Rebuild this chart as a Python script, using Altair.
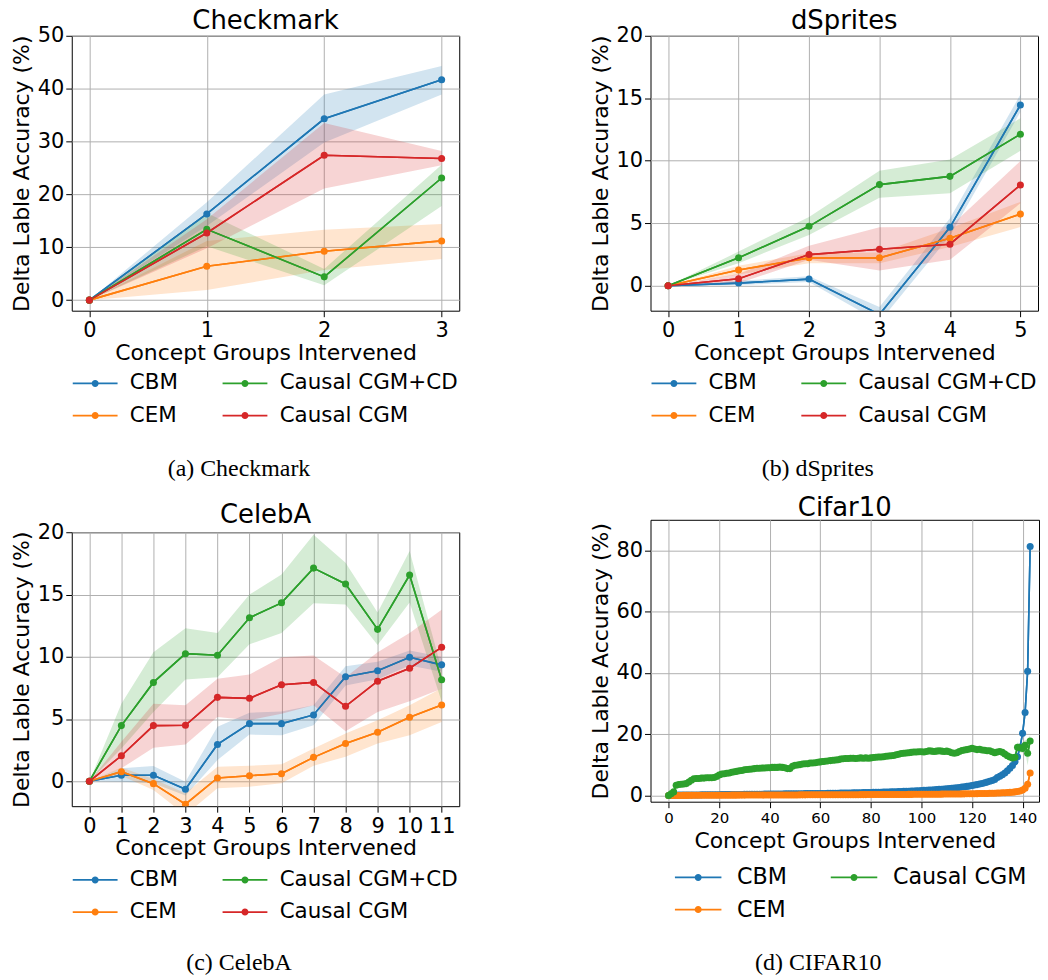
import math
import altair as alt
import pandas as pd

FONT = "DejaVu Sans"
SERIF = "Liberation Serif"
BLUE, ORANGE, GREEN, RED = "#1f77b4", "#ff7f0e", "#2ca02c", "#d62728"

# ---------------- (a) Checkmark ----------------
CK_X = [0, 1, 2, 3]
CK_CBM = [0.0, 16.3, 34.3, 41.7]
CK_CBM_LO = [0.0, 14.0, 29.8, 38.9]
CK_CBM_HI = [0.0, 18.5, 38.9, 44.3]
CK_CEM = [0.0, 6.4, 9.25, 11.2]
CK_CEM_LO = [0.0, 1.9, 5.7, 7.8]
CK_CEM_HI = [0.0, 11.2, 13.3, 14.4]
CK_CD = [0.0, 13.4, 4.4, 23.1]
CK_CD_LO = [0.0, 10.2, 2.8, 17.8]
CK_CD_HI = [0.0, 16.5, 5.9, 25.6]
CK_CGM = [0.0, 12.7, 27.4, 26.8]
CK_CGM_LO = [0.0, 9.8, 21.1, 25.5]
CK_CGM_HI = [0.0, 15.3, 33.5, 28.2]

# ---------------- (b) dSprites ----------------
DS_X = [0, 1, 2, 3, 4, 5]
DS_CBM = [0.0, 0.21, 0.53, -2.3, 4.67, 14.46]
DS_CBM_LO = [0.0, 0.05, 0.3, -2.9, 4.0, 13.9]
DS_CBM_HI = [0.0, 0.4, 0.75, -1.7, 5.4, 15.3]
DS_CEM = [0.0, 1.25, 2.23, 2.23, 3.8, 5.73]
DS_CEM_LO = [0.0, 0.9, 1.8, 1.8, 3.1, 4.7]
DS_CEM_HI = [0.0, 1.6, 2.6, 2.65, 4.6, 6.7]
DS_CD = [0.0, 2.23, 4.75, 8.09, 8.75, 12.12]
DS_CD_LO = [0.0, 1.8, 4.05, 7.03, 7.4, 10.8]
DS_CD_HI = [0.0, 2.73, 5.5, 9.2, 10.1, 13.4]
DS_CGM = [0.0, 0.56, 2.49, 2.92, 3.32, 8.06]
DS_CGM_LO = [0.0, 0.2, 2.07, 1.22, 2.07, 6.6]
DS_CGM_HI = [0.0, 0.93, 3.2, 4.67, 4.72, 9.97]

# ---------------- (c) CelebA ----------------
CA_X = [0, 1, 2, 3, 4, 5, 6, 7, 8, 9, 10, 11]
CA_CBM = [0.0, 0.48, 0.48, -0.64, 2.96, 4.63, 4.63, 5.33, 8.39, 8.87, 9.96, 9.35]
CA_CBM_LO = [0.0, -0.03, -0.16, -1.15, 1.7, 3.75, 3.7, 4.5, 7.7, 8.2, 9.3, 8.8]
CA_CBM_HI = [0.0, 1.04, 1.22, -0.03, 4.37, 5.5, 5.6, 6.1, 9.24, 9.6, 10.5, 10.0]
CA_CEM = [0.0, 0.77, -0.19, -1.84, 0.27, 0.45, 0.61, 1.92, 3.04, 3.94, 5.14, 6.13]
CA_CEM_LO = [0.0, 0.45, -0.7, -2.7, -0.56, -0.43, -0.16, 1.25, 1.97, 3.04, 3.7, 4.77]
CA_CEM_HI = [0.0, 1.1, 0.19, -0.96, 1.17, 1.25, 1.36, 2.64, 3.84, 4.9, 6.1, 7.48]
CA_CD = [0.0, 4.47, 7.94, 10.25, 10.12, 13.13, 14.33, 17.12, 15.85, 12.2, 16.56, 8.15]
CA_CD_LO = [0.0, 2.64, 5.57, 8.18, 8.36, 11.0, 11.9, 14.3, 14.2, 10.95, 14.35, 6.4]
CA_CD_HI = [0.0, 6.23, 10.36, 12.28, 11.9, 15.0, 16.6, 19.8, 17.55, 13.55, 18.5, 9.0]
CA_CGM = [0.0, 2.05, 4.47, 4.5, 6.74, 6.66, 7.75, 7.94, 6.02, 8.04, 9.08, 10.76]
CA_CGM_LO = [0.0, 1.04, 2.69, 2.96, 5.17, 4.9, 5.43, 6.1, 4.02, 5.57, 6.42, 7.43]
CA_CGM_HI = [0.0, 3.17, 6.23, 6.1, 8.23, 8.58, 9.96, 10.1, 8.36, 10.36, 11.9, 13.77]

# ---------------- (d) CIFAR10 (x = 0 .. 143) ----------------
CF_CBM = [
    0.00, 0.05, 0.10, 0.12, 0.14, 0.15, 0.16, 0.17, 0.18, 0.19,
    0.20, 0.21, 0.22, 0.23, 0.24, 0.25, 0.26, 0.27, 0.28, 0.29,
    0.30, 0.31, 0.32, 0.33, 0.34, 0.35, 0.36, 0.37, 0.38, 0.38,
    0.39, 0.40, 0.41, 0.42, 0.43, 0.44, 0.45, 0.46, 0.47, 0.48,
    0.49, 0.50, 0.51, 0.52, 0.53, 0.54, 0.55, 0.56, 0.57, 0.58,
    0.59, 0.60, 0.61, 0.62, 0.63, 0.64, 0.65, 0.66, 0.67, 0.68,
    0.69, 0.70, 0.71, 0.72, 0.74, 0.75, 0.77, 0.78, 0.80, 0.81,
    0.83, 0.85, 0.86, 0.88, 0.90, 0.92, 0.94, 0.96, 0.98, 1.00,
    1.02, 1.04, 1.06, 1.09, 1.11, 1.14, 1.16, 1.19, 1.22, 1.25,
    1.28, 1.31, 1.34, 1.37, 1.40, 1.44, 1.48, 1.52, 1.56, 1.60,
    1.64, 1.69, 1.74, 1.79, 1.84, 1.90, 1.96, 2.02, 2.08, 2.15,
    2.22, 2.30, 2.38, 2.47, 2.56, 2.66, 2.77, 2.88, 3.00, 3.13,
    3.27, 3.42, 3.58, 3.76, 3.95, 4.16, 4.39, 4.65, 4.93, 5.25,
    5.90, 6.30, 6.80, 7.40, 8.10, 8.90, 9.80, 11.0, 12.7, 15.8,
    20.3, 27.1, 40.6, 81.3,
]
CF_CEM = [
    0.00, 0.02, 0.03, 0.04, 0.05, 0.05, 0.06, 0.06, 0.07, 0.07,
    0.08, 0.08, 0.09, 0.09, 0.10, 0.10, 0.10, 0.11, 0.11, 0.12,
    0.12, 0.12, 0.13, 0.13, 0.13, 0.14, 0.14, 0.14, 0.15, 0.15,
    0.15, 0.16, 0.16, 0.16, 0.17, 0.17, 0.17, 0.18, 0.18, 0.18,
    0.19, 0.19, 0.19, 0.20, 0.20, 0.20, 0.21, 0.21, 0.21, 0.22,
    0.22, 0.22, 0.23, 0.23, 0.23, 0.24, 0.24, 0.24, 0.25, 0.25,
    0.25, 0.26, 0.26, 0.26, 0.27, 0.27, 0.27, 0.28, 0.28, 0.28,
    0.29, 0.29, 0.29, 0.30, 0.30, 0.30, 0.31, 0.31, 0.31, 0.32,
    0.32, 0.32, 0.33, 0.33, 0.34, 0.34, 0.34, 0.35, 0.35, 0.36,
    0.36, 0.37, 0.37, 0.38, 0.38, 0.39, 0.39, 0.40, 0.40, 0.41,
    0.41, 0.42, 0.43, 0.43, 0.44, 0.45, 0.45, 0.46, 0.47, 0.48,
    0.49, 0.50, 0.51, 0.52, 0.53, 0.54, 0.55, 0.56, 0.57, 0.59,
    0.60, 0.62, 0.63, 0.65, 0.67, 0.69, 0.71, 0.73, 0.76, 0.79,
    0.82, 0.85, 0.89, 0.93, 0.98, 1.04, 1.11, 1.20, 1.32, 1.50,
    1.85, 2.40, 3.70, 7.40,
]
CF_CGM = [
    0.0, 0.6, 1.2, 3.4, 3.6, 3.7, 3.8, 3.9, 4.4, 5.0,
    5.5, 5.6, 5.6, 5.7, 5.7, 5.8, 5.8, 5.8, 5.9, 6.2,
    6.7, 7.0, 7.1, 7.3, 7.4, 7.6, 7.8, 7.9, 8.1, 8.2,
    8.4, 8.5, 8.6, 8.7, 8.8, 8.9, 8.9, 9.0, 9.0, 9.1,
    9.1, 9.2, 9.2, 9.2, 9.3, 9.2, 9.1, 8.8, 8.8, 9.6,
    9.9, 10.0, 10.1, 10.3, 10.4, 10.4, 10.6, 10.6, 10.7, 10.9,
    11.0, 11.1, 11.2, 11.3, 11.4, 11.5, 11.6, 11.7, 11.9, 12.0,
    12.1, 12.1, 12.2, 12.2, 12.1, 12.2, 12.3, 12.2, 12.3, 12.2,
    12.3, 12.4, 12.5, 12.6, 12.6, 12.7, 12.8, 12.9, 13.0, 13.1,
    13.3, 13.5, 13.7, 13.8, 13.9, 14.0, 14.1, 14.2, 14.2, 14.3,
    14.3, 14.2, 14.4, 14.6, 14.5, 14.4, 14.5, 14.6, 14.5, 14.4,
    14.5, 14.3, 14.0, 13.8, 14.0, 14.4, 14.7, 14.9, 15.0, 15.2,
    15.4, 15.2, 15.0, 15.1, 14.9, 14.8, 14.6, 14.6, 14.3, 14.0,
    14.2, 14.4, 14.1, 13.6, 13.0, 12.6, 12.3, 12.5, 15.8, 15.6,
    15.4, 16.4, 13.8, 17.8,
]
CF_CGM_ERR = [
    0.0, 0.3, 0.3, 0.4, 0.4, 0.4, 0.4, 0.4, 0.4, 0.4,
    0.4, 0.4, 0.4, 0.4, 0.4, 0.4, 0.4, 0.4, 0.4, 0.4,
    0.4, 0.4, 0.4, 0.4, 0.4, 0.4, 0.4, 0.4, 0.4, 0.4,
    0.5, 0.5, 0.5, 0.5, 0.5, 0.5, 0.5, 0.5, 0.5, 0.5,
    0.5, 0.5, 0.5, 0.5, 0.5, 0.5, 0.5, 0.5, 0.5, 0.5,
    0.5, 0.5, 0.5, 0.5, 0.5, 0.5, 0.5, 0.5, 0.5, 0.5,
    0.6, 0.6, 0.6, 0.6, 0.6, 0.6, 0.6, 0.6, 0.6, 0.6,
    0.6, 0.6, 0.6, 0.6, 0.6, 0.6, 0.6, 0.6, 0.6, 0.6,
    0.6, 0.6, 0.6, 0.6, 0.6, 0.6, 0.6, 0.6, 0.6, 0.6,
    0.6, 0.6, 0.6, 0.6, 0.6, 0.6, 0.6, 0.6, 0.6, 0.6,
    0.7, 0.7, 0.7, 0.7, 0.7, 0.7, 0.7, 0.7, 0.7, 0.7,
    0.7, 0.7, 0.7, 0.7, 0.7, 0.7, 0.7, 0.7, 0.7, 0.7,
    0.7, 0.7, 0.7, 0.7, 0.7, 0.7, 0.7, 0.7, 0.7, 0.7,
    0.8, 0.8, 0.8, 0.8, 0.9, 0.9, 1.0, 1.2, 1.5, 1.5,
    1.5, 1.8, 4.0, 2.0,
]

# legend fills column-major (two columns), like matplotlib ncol=2
ORDER4 = ["CBM", "CEM", "Causal CGM+CD", "Causal CGM"]
RANGE4 = [BLUE, ORANGE, GREEN, RED]
ORDER3 = ["CBM", "CEM", "Causal CGM"]
RANGE3 = [BLUE, ORANGE, GREEN]


def make_df(x, series):
    rows = []
    for name, ys, los, his in series:
        for xv, yv, lv, hv in zip(x, ys, los, his):
            rows.append({"x": xv, "y": yv, "lo": lv, "hi": hv, "method": name})
    return pd.DataFrame(rows)


ck_df = make_df(CK_X, [("CBM", CK_CBM, CK_CBM_LO, CK_CBM_HI), ("CEM", CK_CEM, CK_CEM_LO, CK_CEM_HI),
                       ("Causal CGM+CD", CK_CD, CK_CD_LO, CK_CD_HI), ("Causal CGM", CK_CGM, CK_CGM_LO, CK_CGM_HI)])
ds_df = make_df(DS_X, [("CBM", DS_CBM, DS_CBM_LO, DS_CBM_HI), ("CEM", DS_CEM, DS_CEM_LO, DS_CEM_HI),
                       ("Causal CGM+CD", DS_CD, DS_CD_LO, DS_CD_HI), ("Causal CGM", DS_CGM, DS_CGM_LO, DS_CGM_HI)])
ca_df = make_df(CA_X, [("CBM", CA_CBM, CA_CBM_LO, CA_CBM_HI), ("CEM", CA_CEM, CA_CEM_LO, CA_CEM_HI),
                       ("Causal CGM+CD", CA_CD, CA_CD_LO, CA_CD_HI), ("Causal CGM", CA_CGM, CA_CGM_LO, CA_CGM_HI)])
CF_X = list(range(len(CF_CBM)))
cf_df = make_df(CF_X, [("CBM", CF_CBM, CF_CBM, CF_CBM), ("CEM", CF_CEM, CF_CEM, CF_CEM),
                       ("Causal CGM", CF_CGM, [v - e for v, e in zip(CF_CGM, CF_CGM_ERR)],
                        [v + e for v, e in zip(CF_CGM, CF_CGM_ERR)])])
cf_band = cf_df[cf_df["method"] == "Causal CGM"]


def legend_path(half):
    parts = ["M-1,0L1,0"]
    for r in (0.8, 1.8, 2.6):
        u = r / half
        pts = [(u * math.cos(2 * math.pi * k / 16), u * math.sin(2 * math.pi * k / 16)) for k in range(16)]
        parts.append("M" + "L".join(f"{px:.4f},{py:.4f}" for px, py in pts) + "Z")
    return "".join(parts)


def legend(half, fs, sym_off, lab_off, col_pad, offset):
    return alt.Legend(orient="bottom", direction="vertical", columns=2, columnPadding=col_pad,
                      rowPadding=0.3, clipHeight=32, symbolType=legend_path(half),
                      symbolSize=(2 * half) ** 2, symbolStrokeWidth=1.8, symbolOffset=sym_off,
                      symbolOpacity=1, labelFont=FONT, labelFontSize=fs, labelOffset=lab_off,
                      labelLimit=400, labelColor="black", title=None, padding=0, offset=offset)


def panel(df, band_df, order, rng, title, xdom, xvals, ydom, yvals, width, height, leg,
          xlab_size=21, xtp=2, ylp=2, ytp=3.5, title_offset=0):
    cscale = alt.Scale(domain=order, range=rng)
    xs = alt.Scale(domain=xdom, nice=False, zero=False)
    ys = alt.Scale(domain=ydom, nice=False, zero=False)
    xaxis = alt.Axis(values=xvals, title="Concept Groups Intervened", labelFontSize=xlab_size,
                     labelPadding=3, titlePadding=xtp, labelFlush=False, labelOverlap=False, format="d")
    yaxis = alt.Axis(values=yvals, title="Delta Lable Accuracy (%)", labelPadding=ylp,
                     titlePadding=ytp, labelFlush=False, labelOverlap=False, format="d")
    X = alt.X("x:Q", scale=xs, axis=xaxis)
    line_leg = alt.Chart(df).mark_line(strokeWidth=1.6, clip=True).encode(
        x=X, y=alt.Y("y:Q", scale=ys, axis=yaxis),
        color=alt.Color("method:N", scale=cscale, legend=leg),
    )
    band = alt.Chart(band_df).mark_area(opacity=0.2, clip=True).encode(
        x=X, y=alt.Y("lo:Q", scale=ys, axis=yaxis, stack=None), y2="hi:Q",
        color=alt.Color("method:N", scale=cscale, legend=None),
    )
    line = alt.Chart(df).mark_line(strokeWidth=1.6, clip=True).encode(
        x=X, y=alt.Y("y:Q", scale=ys, axis=yaxis),
        color=alt.Color("method:N", scale=cscale, legend=None),
    )
    pts = alt.Chart(df).mark_circle(size=50, opacity=1, clip=True).encode(
        x=X, y=alt.Y("y:Q", scale=ys, axis=yaxis),
        color=alt.Color("method:N", scale=cscale, legend=None),
    )
    return alt.layer(line_leg, band, line, pts).properties(
        width=width, height=height,
        title=alt.TitleParams(title, font=FONT, fontSize=26, fontWeight="normal", color="black",
                              baseline="bottom", offset=title_offset, anchor="middle", frame="group"),
    )


def captioned(ch, text, offset):
    return alt.vconcat(ch).properties(
        title=alt.TitleParams(text, orient="bottom", font=SERIF, fontSize=24, fontWeight="normal",
                              color="black", offset=offset, anchor="middle", dx=4)
    ).resolve_scale(color="independent").resolve_legend(color="independent")


LEG4 = dict(half=22.5, fs=21.5, sym_off=0, lab_off=11.3, col_pad=43.4)
pa = panel(ck_df, ck_df, ORDER4, RANGE4, "Checkmark", [-0.15, 3.15], CK_X, [-2, 50],
           [0, 10, 20, 30, 40, 50], 389, 276, legend(offset=3.5, **LEG4), title_offset=-35)
pb = panel(ds_df, ds_df, ORDER4, RANGE4, "dSprites", [-0.25, 5.25], DS_X, [-2, 20],
           [0, 5, 10, 15, 20], 389, 276, legend(offset=3.5, **LEG4), title_offset=-35)
pc = panel(ca_df, ca_df, ORDER4, RANGE4, "CelebA", [-0.55, 11.55], CA_X, [-2, 20],
           [0, 5, 10, 15, 20], 389, 275, legend(offset=5, **LEG4), title_offset=-32.6)
pd_ = panel(cf_df, cf_band, ORDER3, RANGE3, "Cifar10", [-7.15, 146.5],
            [0, 20, 40, 60, 80, 100, 120, 140], [-2, 90], [0, 20, 40, 60, 80], 390, 283,
            legend(half=23.35, fs=22.3, sym_off=23.35, lab_off=14.55, col_pad=18.45, offset=10.4),
            xlab_size=15, xtp=4.5, title_offset=-27.2)

capA = captioned(pa, "(a) Checkmark", 24.5)
capB = captioned(pb, "(b) dSprites", 24.5)
capC = captioned(pc, "(c) CelebA", 21.5)
capD = captioned(pd_, "(d) CIFAR10", 24)

col1 = alt.vconcat(capA, capC, spacing=20.4).resolve_scale(color="independent").resolve_legend(color="independent")
col2 = alt.vconcat(capB, capD, spacing=12.9).resolve_scale(color="independent").resolve_legend(color="independent")

chart = alt.hconcat(col1, col2, spacing=129).resolve_scale(color="independent").resolve_legend(
    color="independent"
).properties(
    padding={"left": 2, "top": -3, "right": 0, "bottom": 0}
).configure_view(
    stroke="black", strokeWidth=1
).configure_axis(
    labelFont=FONT, titleFont=FONT, labelFontSize=21, titleFontSize=22,
    labelColor="black", titleColor="black", titleFontWeight="normal",
    gridColor="#b0b0b0", gridWidth=1, gridOpacity=1,
    tickColor="black", tickWidth=1, tickSize=6, domain=False,
)

chart.save("out.html", embed_options={"renderer": "svg", "actions": False})
